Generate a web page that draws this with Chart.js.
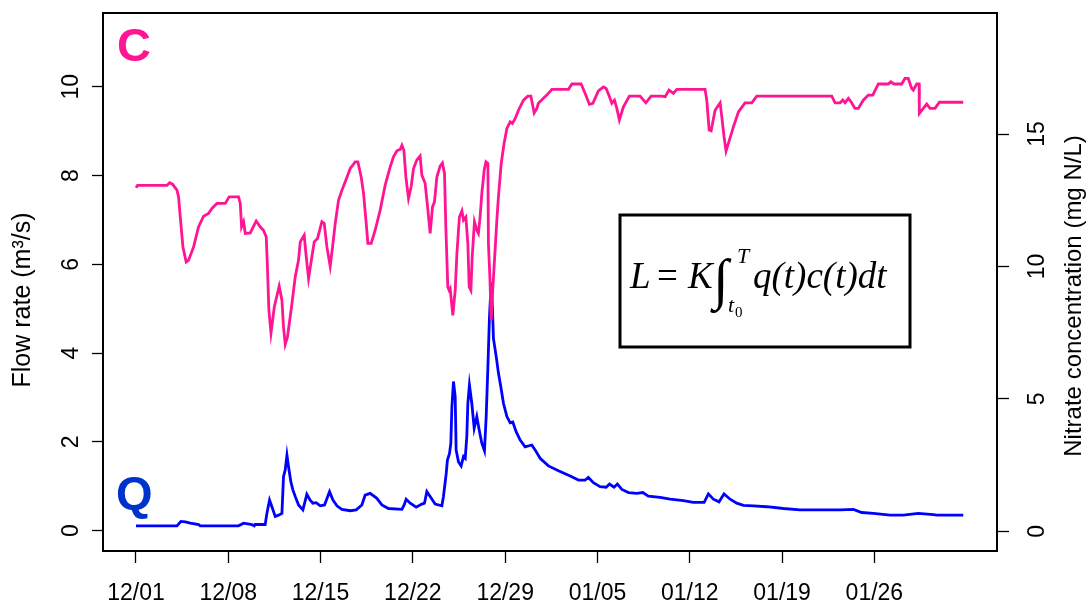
<!DOCTYPE html>
<html>
<head>
<meta charset="utf-8">
<script src="https://cdn.jsdelivr.net/npm/chart.js@4"></script>
<style>
  body { margin: 0; background: #fff; }
  #wrap { width: 1087px; height: 601px; }
</style>
</head>
<body>
<div id="wrap"><canvas id="loadChart" width="1087" height="601"></canvas></div>
<script>
// days since 12/01 and nitrate concentration (mg N/L)
const concDays = [0, 0.12, 2.35, 2.55, 2.77, 3.11, 3.23, 3.36, 3.56, 3.81,
  3.99, 4.37, 4.75, 5.13, 5.50, 5.76, 6.14, 6.77, 7.07, 7.78,
  7.91, 8.01, 8.16, 8.29, 8.67, 9.12, 9.42, 9.67, 9.88, 9.98,
  10.08, 10.24, 10.49, 10.86, 11.07, 11.19, 11.32, 11.49, 11.83, 12.08,
  12.33, 12.46, 12.76, 12.89, 13.09, 13.34, 13.52, 13.77, 14.10, 14.28,
  14.48, 14.73, 14.91, 15.11, 15.36, 15.62, 15.87, 16.25, 16.63, 16.83,
  17.08, 17.26, 17.44, 17.59, 17.84, 18.14, 18.52, 18.90, 19.28, 19.53,
  19.79, 20.04, 20.17, 20.32, 20.47, 20.67, 20.87, 21.05, 21.30, 21.55,
  21.68, 21.93, 22.14, 22.31, 22.49, 22.64, 22.82, 23.07, 23.24, 23.40,
  23.50, 23.65, 23.75, 23.83, 24.03, 24.21, 24.34, 24.53, 24.72, 24.84,
  25.02, 25.17, 25.27, 25.40, 25.50, 25.67, 25.85, 25.97, 26.10, 26.23,
  26.41, 26.54, 26.69, 26.73, 26.84, 26.94, 27.04, 27.19, 27.37, 27.49,
  27.70, 27.92, 28.13, 28.38, 28.55, 28.76, 29.01, 29.39, 29.72, 29.95,
  30.20, 30.40, 30.52, 30.90, 31.16, 31.54, 32.80, 33.06, 33.76, 34.06,
  34.39, 34.65, 35.07, 35.45, 35.66, 35.91, 36.09, 36.29, 36.47, 36.66,
  36.97, 37.42, 38.23, 38.67, 39.07, 39.88, 40.13, 40.43, 40.76, 41.02,
  43.16, 43.29, 43.47, 43.62, 43.92, 44.30, 44.43, 44.60, 44.75, 44.93,
  45.31, 45.69, 46.19, 46.70, 47.08, 52.77, 53.02, 53.40, 53.60, 53.78,
  54.03, 54.23, 54.53, 54.78, 55.16, 55.54, 55.88, 56.30, 57.06, 57.24,
  57.49, 58.07, 58.32, 58.57, 58.83, 58.95, 59.21, 59.39, 59.41, 59.71,
  59.97, 60.22, 60.60, 60.93, 62.74];
const concValues = [12.97, 13.06, 13.06, 13.16, 13.11, 12.88, 12.63, 11.87, 10.74, 10.17,
  10.24, 10.74, 11.50, 11.90, 12.00, 12.19, 12.38, 12.38, 12.63, 12.63,
  12.38, 11.50, 11.69, 11.25, 11.27, 11.72, 11.50, 11.37, 11.12, 9.86,
  8.35, 7.49, 8.47, 9.26, 8.73, 7.72, 7.06, 7.34, 8.60, 9.61,
  10.24, 10.93, 11.18, 10.49, 9.55, 10.36, 10.93, 11.06, 11.69, 11.62,
  10.74, 10.01, 10.74, 11.62, 12.50, 12.88, 13.20, 13.70, 13.95, 13.95,
  13.38, 12.76, 11.75, 10.87, 10.87, 11.37, 12.13, 13.07, 13.76, 14.14,
  14.37, 14.42, 14.58, 14.39, 13.38, 12.57, 13.01, 13.70, 14.02, 14.17,
  13.45, 13.14, 12.13, 11.25, 12.25, 12.44, 13.38, 13.79, 13.91, 13.51,
  11.50, 9.23, 9.10, 9.17, 8.16, 9.10, 10.49, 11.87, 12.10, 11.75,
  11.87, 10.87, 9.23, 9.10, 10.36, 11.69, 11.37, 11.25, 11.87, 12.76,
  13.64, 13.95, 13.89, 10.87, 9.61, 7.97, 8.98, 10.24, 11.75, 12.63,
  13.89, 14.65, 15.21, 15.46, 15.40, 15.59, 15.90, 16.28, 16.43, 16.43,
  15.80, 15.97, 16.16, 16.35, 16.47, 16.69, 16.69, 16.89, 16.89, 16.54,
  16.12, 16.16, 16.63, 16.78, 16.72, 16.41, 16.16, 16.28, 15.97, 15.53,
  16.03, 16.43, 16.43, 16.18, 16.43, 16.43, 16.41, 16.66, 16.54, 16.69,
  16.69, 16.28, 15.15, 15.12, 15.90, 16.18, 15.65, 14.90, 14.36, 14.65,
  15.27, 15.84, 16.18, 16.18, 16.43, 16.43, 16.18, 16.18, 16.28, 16.18,
  16.35, 16.22, 15.97, 15.97, 16.28, 16.47, 16.47, 16.89, 16.89, 16.97,
  16.89, 16.89, 17.10, 17.10, 16.72, 16.66, 16.89, 16.89, 15.78, 15.97,
  16.13, 15.97, 15.97, 16.20, 16.20];

// days since 12/01 and flow rate (m3/s)
const flowDays = [0, 3.11, 3.41, 3.74, 4.12, 4.75, 4.87, 7.78, 8.16, 8.79,
  8.97, 9.04, 9.80, 9.93, 10.13, 10.31, 10.56, 10.81, 11.07, 11.19,
  11.32, 11.45, 11.57, 11.75, 11.90, 12.08, 12.33, 12.66, 12.96, 13.21,
  13.42, 13.67, 13.97, 14.30, 14.68, 14.94, 15.24, 15.62, 16.25, 16.70,
  17.13, 17.38, 17.76, 18.27, 18.65, 19.15, 20.17, 20.34, 20.49, 20.80,
  21.25, 21.68, 21.88, 22.06, 22.31, 22.69, 23.20, 23.32, 23.53, 23.62,
  23.78, 23.88, 23.96, 24.08, 24.21, 24.28, 24.46, 24.66, 24.84, 24.97,
  25.09, 25.17, 25.29, 25.47, 25.65, 25.85, 26.03, 26.23, 26.43, 26.56,
  26.69, 26.81, 26.94, 27.04, 27.11, 27.32, 27.49, 27.67, 27.87, 28.13,
  28.38, 28.58, 28.83, 29.14, 29.51, 30.02, 30.27, 30.65, 31.28, 32.04,
  32.93, 33.56, 34.06, 34.31, 34.69, 35.20, 35.66, 35.91, 36.26, 36.51,
  36.85, 37.35, 37.98, 38.44, 38.86, 39.75, 40.51, 41.52, 42.27, 43.09,
  43.41, 43.79, 44.22, 44.60, 45.06, 45.56, 46.07, 46.82, 47.84, 49.10,
  50.36, 53.40, 54.41, 55.04, 55.92, 57.19, 58.20, 59.33, 60.47, 60.73,
  62.74];
const flowValues = [0.11, 0.11, 0.21, 0.20, 0.17, 0.14, 0.11, 0.11, 0.17, 0.14,
  0.11, 0.14, 0.14, 0.39, 0.69, 0.54, 0.32, 0.35, 0.39, 1.22,
  1.37, 1.70, 1.44, 1.10, 0.92, 0.77, 0.58, 0.47, 0.82, 0.69,
  0.62, 0.63, 0.56, 0.58, 0.88, 0.69, 0.56, 0.48, 0.45, 0.47,
  0.58, 0.80, 0.84, 0.73, 0.58, 0.50, 0.48, 0.58, 0.71, 0.62,
  0.53, 0.60, 0.62, 0.88, 0.77, 0.60, 0.56, 0.77, 1.29, 1.59,
  1.74, 1.97, 2.79, 3.36, 3.02, 1.82, 1.55, 1.46, 1.67, 1.63,
  2.12, 2.87, 3.28, 2.87, 2.31, 2.57, 2.27, 1.97, 1.80, 2.57,
  3.69, 4.82, 5.59, 4.97, 4.33, 3.92, 3.55, 3.24, 2.87, 2.57,
  2.43, 2.45, 2.23, 2.04, 1.89, 1.93, 1.82, 1.63, 1.46, 1.35,
  1.23, 1.14, 1.14, 1.20, 1.08, 0.99, 0.98, 1.05, 0.98, 1.05,
  0.93, 0.86, 0.84, 0.86, 0.78, 0.75, 0.71, 0.68, 0.64, 0.64,
  0.83, 0.71, 0.65, 0.83, 0.71, 0.62, 0.57, 0.56, 0.54, 0.50,
  0.47, 0.47, 0.48, 0.41, 0.39, 0.35, 0.35, 0.39, 0.36, 0.35,
  0.35];

// axis ticks
const dateTicks = [0, 7, 14, 21, 28, 35, 42, 49, 56];
const dateLabels = ['12/01', '12/08', '12/15', '12/22', '12/29', '01/05', '01/12', '01/19', '01/26'];
const flowTicks = [0, 2, 4, 6, 8, 10];
const concTicks = [0, 5, 10, 15];

const FONT = '"Liberation Sans", Arial, sans-serif';
const SERIF = '"Liberation Serif", "Times New Roman", serif';

function toPoints(xs, ys) {
    return xs.map((x, i) => ({ x: x, y: ys[i] }));
}

// fix the size of each axis box so the plot frame sits where we want it
function fixSize(prop, size) {
    return function(scale) {
        scale[prop] = size;
        scale.paddingTop = 0;
        scale.paddingBottom = 0;
        scale.paddingLeft = 0;
        scale.paddingRight = 0;
    };
}

function setTicks(values) {
    return function(scale) {
        scale.ticks = values.map(v => ({ value: v }));
    };
}

// frame, axis titles, C / Q tags and the load formula
const decorations = {
    id: 'decorations',
    afterDraw(chart) {
        const ctx = chart.ctx;
        const a = chart.chartArea;
        ctx.save();

        ctx.strokeStyle = '#000';
        ctx.lineWidth = 2;
        ctx.strokeRect(a.left, a.top, a.right - a.left, a.bottom - a.top);

        // axis titles, both read bottom to top
        ctx.fillStyle = '#000';
        ctx.textAlign = 'center';
        ctx.textBaseline = 'middle';
        ctx.save();
        ctx.font = '25px ' + FONT;
        ctx.translate(23, 300);
        ctx.rotate(-Math.PI / 2);
        ctx.fillText('Flow rate (m\u00B3/s)', 0, 0);
        ctx.restore();
        ctx.save();
        ctx.font = '24px ' + FONT;
        ctx.translate(1074, 296);
        ctx.rotate(-Math.PI / 2);
        ctx.fillText('Nitrate concentration (mg N/L)', 0, 0);
        ctx.restore();

        // series tags
        ctx.textAlign = 'left';
        ctx.textBaseline = 'alphabetic';
        ctx.font = 'bold 47px ' + FONT;
        ctx.fillStyle = '#FF1493';
        ctx.fillText('C', 117, 61);
        ctx.fillStyle = '#0033CC';
        ctx.fillText('Q', 116, 509);

        // formula box
        ctx.fillStyle = '#fff';
        ctx.fillRect(620, 215, 290, 132);
        ctx.lineWidth = 3;
        ctx.strokeStyle = '#000';
        ctx.strokeRect(620, 215, 290, 132);

        ctx.fillStyle = '#000';
        ctx.font = 'italic 37px ' + SERIF;
        ctx.fillText('L', 630, 288);
        ctx.font = '37px ' + SERIF;
        ctx.fillText('=', 657, 288);
        ctx.font = 'italic 37px ' + SERIF;
        ctx.fillText('K', 688, 288);
        ctx.font = '56px ' + SERIF;
        ctx.fillText('\u222B', 713, 298);
        ctx.font = 'italic 22px ' + SERIF;
        ctx.fillText('T', 737, 263);
        ctx.fillText('t', 728, 312);
        ctx.font = '15px ' + SERIF;
        ctx.fillText('0', 735, 317);
        ctx.font = 'italic 37px ' + SERIF;
        ctx.fillText('q(t)c(t)dt', 753, 288);

        ctx.restore();
    }
};

new Chart(document.getElementById('loadChart'), {
    type: 'line',
    data: {
        datasets: [
            {
                label: 'C',
                data: toPoints(concDays, concValues),
                yAxisID: 'yC',
                borderColor: '#FF1493',
                borderWidth: 2.8,
                pointRadius: 0,
                tension: 0,
                order: 0
            },
            {
                label: 'Q',
                data: toPoints(flowDays, flowValues),
                yAxisID: 'yQ',
                borderColor: '#0000FF',
                borderWidth: 2.8,
                pointRadius: 0,
                tension: 0,
                order: 1
            }
        ]
    },
    options: {
        responsive: false,
        animation: false,
        devicePixelRatio: 1,
        layout: { padding: { top: 13, left: 0, right: 0, bottom: 0 } },
        plugins: {
            legend: { display: false },
            tooltip: { enabled: false }
        },
        scales: {
            x: {
                type: 'linear',
                position: 'bottom',
                min: -2.5,
                max: 65.3,
                afterBuildTicks: setTicks(dateTicks),
                afterFit: fixSize('height', 50),
                border: { display: false },
                grid: {
                    drawOnChartArea: false,
                    drawTicks: true,
                    tickLength: 12,
                    tickColor: '#000',
                    tickWidth: 1.3
                },
                ticks: {
                    color: '#000',
                    padding: 17,
                    maxRotation: 0,
                    autoSkip: false,
                    font: { family: FONT, size: 23 },
                    callback: v => dateLabels[dateTicks.indexOf(v)]
                }
            },
            yQ: {
                type: 'linear',
                position: 'left',
                min: -0.457,
                max: 11.66,
                afterBuildTicks: setTicks(flowTicks),
                afterFit: fixSize('width', 103),
                border: { display: false },
                grid: {
                    drawOnChartArea: false,
                    drawTicks: true,
                    tickLength: 11,
                    tickColor: '#000',
                    tickWidth: 1.3
                },
                ticks: {
                    color: '#000',
                    padding: 8,
                    minRotation: 90,
                    maxRotation: 90,
                    crossAlign: 'center',
                    font: { family: FONT, size: 23 }
                }
            },
            yC: {
                type: 'linear',
                position: 'right',
                min: -0.74,
                max: 19.57,
                afterBuildTicks: setTicks(concTicks),
                afterFit: fixSize('width', 90),
                border: { display: false },
                grid: {
                    drawOnChartArea: false,
                    drawTicks: true,
                    tickLength: 12,
                    tickColor: '#000',
                    tickWidth: 1.3
                },
                ticks: {
                    color: '#000',
                    padding: 16,
                    minRotation: 90,
                    maxRotation: 90,
                    crossAlign: 'center',
                    font: { family: FONT, size: 23 }
                }
            }
        }
    },
    plugins: [decorations]
});
</script>
</body>
</html>
